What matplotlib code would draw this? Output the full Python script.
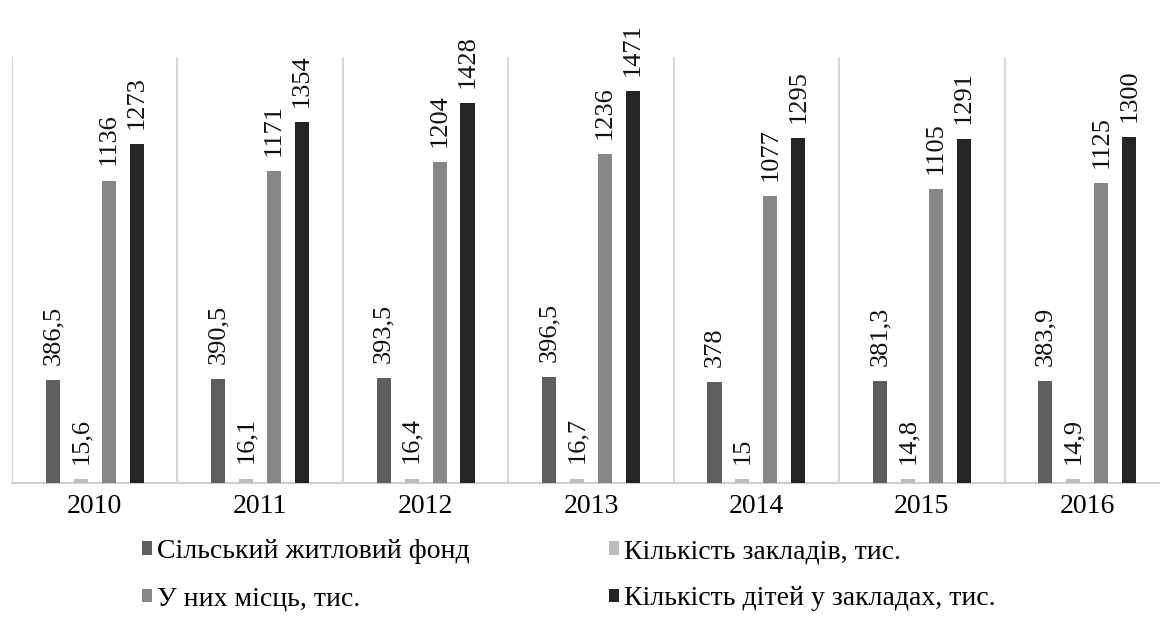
import matplotlib
matplotlib.use('Agg')
import matplotlib.pyplot as plt
import numpy as np
from matplotlib.patches import Patch

plt.rcParams['font.family'] = ['Liberation Serif', 'DejaVu Serif']

years = ['2010', '2011', '2012', '2013', '2014', '2015', '2016']
series_names = [
    'Сільський житловий фонд',
    'Кількість закладів, тис.',
    'У них місць, тис.',
    'Кількість дітей у закладах, тис.',
]
housing = [386.5, 390.5, 393.5, 396.5, 378, 381.3, 383.9]
institutions = [15.6, 16.1, 16.4, 16.7, 15, 14.8, 14.9]
places = [1136, 1171, 1204, 1236, 1077, 1105, 1125]
children = [1273, 1354, 1428, 1471, 1295, 1291, 1300]
colors = ['#5e5e5e', '#bdbdbd', '#878787', '#252525']


def fmt(v):
    s = ('%g' % v)
    return s.replace('.', ',')


fig = plt.figure(figsize=(11.6, 6.42), dpi=100)
# axes runs a bit past the right edge, as in the source image
ax = fig.add_axes([12 / 1160, 159 / 642, 1158 / 1160, 426 / 642])

x = np.arange(len(years))
width = 0.085
step = 0.169
all_series = [housing, institutions, places, children]
for i, vals in enumerate(all_series):
    pos = x + (i - 1.5) * step
    ax.bar(pos, vals, width=width, color=colors[i], zorder=3)
    for p, v in zip(pos, vals):
        ax.annotate(fmt(v), (p, v), xytext=(0, 11), textcoords='offset points',
                    rotation=90, ha='center', va='bottom', fontsize=19,
                    color='#111111')

ax.set_xlim(-0.5, len(years) - 0.5)
ax.set_ylim(0, 1600)
ax.set_yticks([])
ax.set_xticks(x)
ax.set_xticklabels(years, fontsize=20)
ax.tick_params(axis='x', length=0, pad=8)

for b in np.arange(-0.5, len(years), 1.0):
    ax.axvline(b, color='#d9d9d9', linewidth=1.5, zorder=1)

for s in ['top', 'right', 'left']:
    ax.spines[s].set_visible(False)
ax.spines['bottom'].set_color('#d0d0d0')
ax.spines['bottom'].set_linewidth(1.5)

# legend fills column-wise, so reorder to get the reference row layout
order = [0, 2, 1, 3]
handles = [Patch(facecolor=colors[i], edgecolor='none') for i in order]
labels = [series_names[i] for i in order]
fig.legend(handles, labels, loc='upper left', bbox_to_anchor=(117 / 1160, 1 - 514 / 642),
           ncol=2, frameon=False, fontsize=20, handlelength=0.35, handleheight=0.35,
           handletextpad=0.2, columnspacing=5.0, labelspacing=0.8)

fig.savefig('out.png', dpi=100, facecolor='white')
